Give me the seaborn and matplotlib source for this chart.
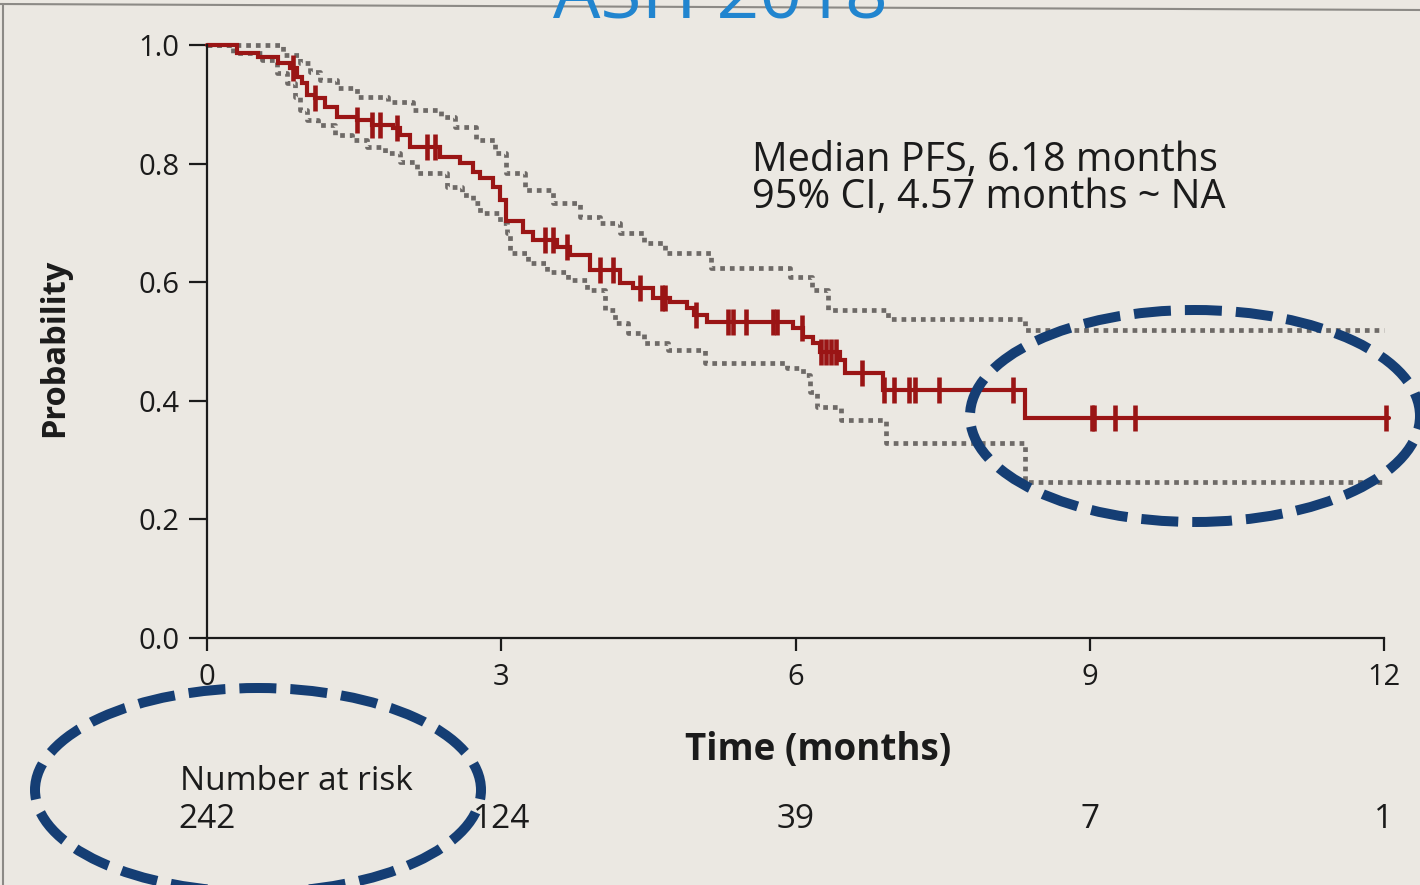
import numpy as np
import pandas as pd
import matplotlib
matplotlib.use("Agg")
import matplotlib.pyplot as plt
import seaborn as sns
from matplotlib.patches import Ellipse
from matplotlib.lines import Line2D
import matplotlib.transforms as mtransforms

# ---------------- data ----------------
km_time = [0.00, 0.31, 0.52, 0.72, 0.85, 0.92, 0.97, 1.02, 1.10, 1.20, 1.33, 1.53,
           1.68, 1.90, 1.97, 2.07, 2.38, 2.58, 2.71, 2.78, 2.92, 2.99, 3.05, 3.22,
           3.32, 3.57, 3.70, 3.90, 4.21, 4.34, 4.55, 4.72, 4.89, 4.97, 5.10, 5.97,
           6.08, 6.18, 6.25, 6.45, 6.50, 6.89, 8.34, 12.05]
km_surv = [1.000, 0.987, 0.980, 0.970, 0.961, 0.946, 0.936, 0.916, 0.911, 0.895, 0.879, 0.874,
           0.865, 0.860, 0.848, 0.828, 0.811, 0.801, 0.786, 0.776, 0.761, 0.739, 0.703, 0.685,
           0.671, 0.659, 0.646, 0.621, 0.599, 0.590, 0.573, 0.567, 0.556, 0.545, 0.533, 0.523,
           0.508, 0.497, 0.482, 0.469, 0.447, 0.418, 0.371, 0.371]

censor_time = [0.88, 1.10, 1.53, 1.68, 1.76, 1.94, 2.24, 2.32, 3.45, 3.53, 3.67, 4.01,
               4.14, 4.41, 4.64, 4.67, 4.99, 5.31, 5.36, 5.50, 5.77, 5.81, 6.07, 6.26,
               6.31, 6.36, 6.41, 6.68, 6.90, 7.00, 7.16, 7.22, 7.46, 8.22, 9.02, 9.04,
               9.26, 9.46, 12.02]

upper_time = [0.00, 0.77, 0.95, 1.05, 1.15, 1.33, 1.53, 1.85, 2.10, 2.39, 2.53, 2.74,
              2.94, 3.05, 3.24, 3.53, 3.80, 4.01, 4.21, 4.46, 4.67, 5.14, 5.94, 6.17,
              6.33, 6.94, 8.34, 12.00]
upper_surv = [1.000, 0.983, 0.970, 0.954, 0.941, 0.927, 0.912, 0.904, 0.890, 0.879, 0.862, 0.840,
              0.818, 0.784, 0.755, 0.734, 0.710, 0.700, 0.683, 0.666, 0.649, 0.624, 0.609, 0.587,
              0.553, 0.538, 0.519, 0.519]

lower_time = [0.00, 0.27, 0.56, 0.71, 0.82, 0.90, 0.95, 1.02, 1.13, 1.30, 1.48, 1.63,
              1.81, 1.97, 2.14, 2.45, 2.60, 2.71, 2.78, 2.99, 3.06, 3.09, 3.27, 3.47,
              3.68, 3.87, 4.06, 4.16, 4.29, 4.46, 4.70, 5.08, 5.91, 6.08, 6.15, 6.22,
              6.46, 6.92, 8.34, 12.00]
lower_surv = [1.000, 0.987, 0.975, 0.953, 0.936, 0.912, 0.890, 0.874, 0.865, 0.848, 0.840, 0.828,
              0.818, 0.803, 0.784, 0.761, 0.747, 0.734, 0.717, 0.700, 0.683, 0.649, 0.632, 0.617,
              0.604, 0.587, 0.553, 0.531, 0.514, 0.497, 0.486, 0.464, 0.455, 0.444, 0.415, 0.390,
              0.368, 0.329, 0.263, 0.263]

risk_time = [0, 3, 6, 9, 12]
risk_count = ["242", "124", "39", "7", "1"]

x_ticks = [0, 3, 6, 9, 12]
y_ticks = [0.0, 0.2, 0.4, 0.6, 0.8, 1.0]

title_text = "ASH 2018"
median_lines = ["Median PFS, 6.18 months", "95% CI, 4.57 months ~ NA"]

# ---------------- style ----------------
BG = "#ebe8e2"
RED = "#9a1515"
GRAY = "#6e6a67"
NAVY = "#153e74"
BLUE = "#2185cf"
INK = "#1b1b1b"

sns.set_theme(style="ticks")
plt.rcParams["font.family"] = ["Open Sans", "DejaVu Sans"]

W, H = 1420, 885
fig = plt.figure(figsize=(W / 100, H / 100), dpi=100, facecolor=BG)
ax = fig.add_axes([207 / W, 1 - 638 / H, (1384 - 207) / W, (638 - 45) / H])
ax.set_facecolor(BG)

# CI dotted lines
ci_df = pd.DataFrame({
    "t": upper_time + lower_time,
    "s": upper_surv + lower_surv,
    "band": ["upper"] * len(upper_time) + ["lower"] * len(lower_time),
})
for band, sub in ci_df.groupby("band"):
    sns.lineplot(data=sub, x="t", y="s", ax=ax, estimator=None, sort=False,
                 drawstyle="steps-post", color=GRAY, linewidth=3.4,
                 linestyle=(0, (1, 1.05)), clip_on=False)

# KM curve
km_df = pd.DataFrame({"t": km_time, "s": km_surv})
sns.lineplot(data=km_df, x="t", y="s", ax=ax, estimator=None, sort=False,
             drawstyle="steps-post", color=RED, linewidth=3.0, clip_on=False,
             solid_joinstyle="miter")

# censor marks at the curve level
kt = np.array(km_time)
ks = np.array(km_surv)
idx = np.searchsorted(kt, np.array(censor_time), side="right") - 1
cen_df = pd.DataFrame({"t": censor_time, "s": ks[idx]})
sns.scatterplot(data=cen_df, x="t", y="s", ax=ax, marker="|", s=360,
                color=RED, linewidth=3.3, clip_on=False, zorder=5)

ax.set_xlim(0, 12)
ax.set_ylim(0, 1)
ax.set_xticks(x_ticks)
ax.set_xticklabels([str(v) for v in x_ticks])
ax.set_yticks(y_ticks)
ax.set_yticklabels([f"{v:.1f}" for v in y_ticks])
ax.set_xlabel("")
ax.set_ylabel("")
for side in ["top", "right"]:
    ax.spines[side].set_visible(False)
for side in ["left", "bottom"]:
    ax.spines[side].set_linewidth(1.6)
    ax.spines[side].set_color(INK)
ax.tick_params(axis="y", length=13, width=1.6, color=INK, pad=7, labelsize=21, labelcolor=INK)
ax.tick_params(axis="x", length=9, width=1.6, color=INK, pad=9, labelsize=21, labelcolor=INK)

# axis labels
fig.text(55 / W, 1 - 348 / H, "Probability", rotation=90, ha="center", va="center",
         fontsize=23.5, fontweight="bold", color=INK)
fig.text(818 / W, 1 - 750 / H, "Time (months)", ha="center", va="center",
         fontsize=26.5, fontweight="bold", color=INK)

# median text
fig.text(752 / W, 1 - 171 / H, median_lines[0], ha="left", va="baseline",
         fontsize=28.5, color=INK)
fig.text(752 / W, 1 - 208 / H, median_lines[1], ha="left", va="baseline",
         fontsize=28.5, color=INK)

# number at risk
trans = mtransforms.blended_transform_factory(ax.transData, fig.transFigure)
fig.text(180 / W, 1 - 782 / H, "Number at risk", ha="left", va="center",
         fontsize=24, color=INK)
for t, c in zip(risk_time, risk_count):
    ax.text(t, 1 - 820 / H, c, transform=trans, ha="center", va="center",
            fontsize=24, color=INK, clip_on=False)

# title (cut off at top)
fig.text(720 / W, 1 - 17 / H, title_text, ha="center", va="baseline",
         fontsize=54, color=BLUE)

# dashed ellipses
for cx, cy, ew, eh in [(1195, 416, 450, 212), (258, 790, 446, 204)]:
    e = Ellipse((cx / W, 1 - cy / H), ew / W, eh / H, transform=fig.transFigure,
                fill=False, edgecolor=NAVY, linewidth=7.2, linestyle=(0, (3.7, 1.4)),
                zorder=10)
    fig.add_artist(e)

# photo frame lines
fig.add_artist(Line2D([0, 1], [1 - 4 / H, 1 - 10 / H], transform=fig.transFigure,
                      color="#8c8a86", linewidth=1.5))
fig.add_artist(Line2D([3 / W, 3 / W], [0, 1 - 4 / H], transform=fig.transFigure,
                      color="#8c8a86", linewidth=1.5))

fig.savefig("out.png", dpi=100, facecolor=BG)
